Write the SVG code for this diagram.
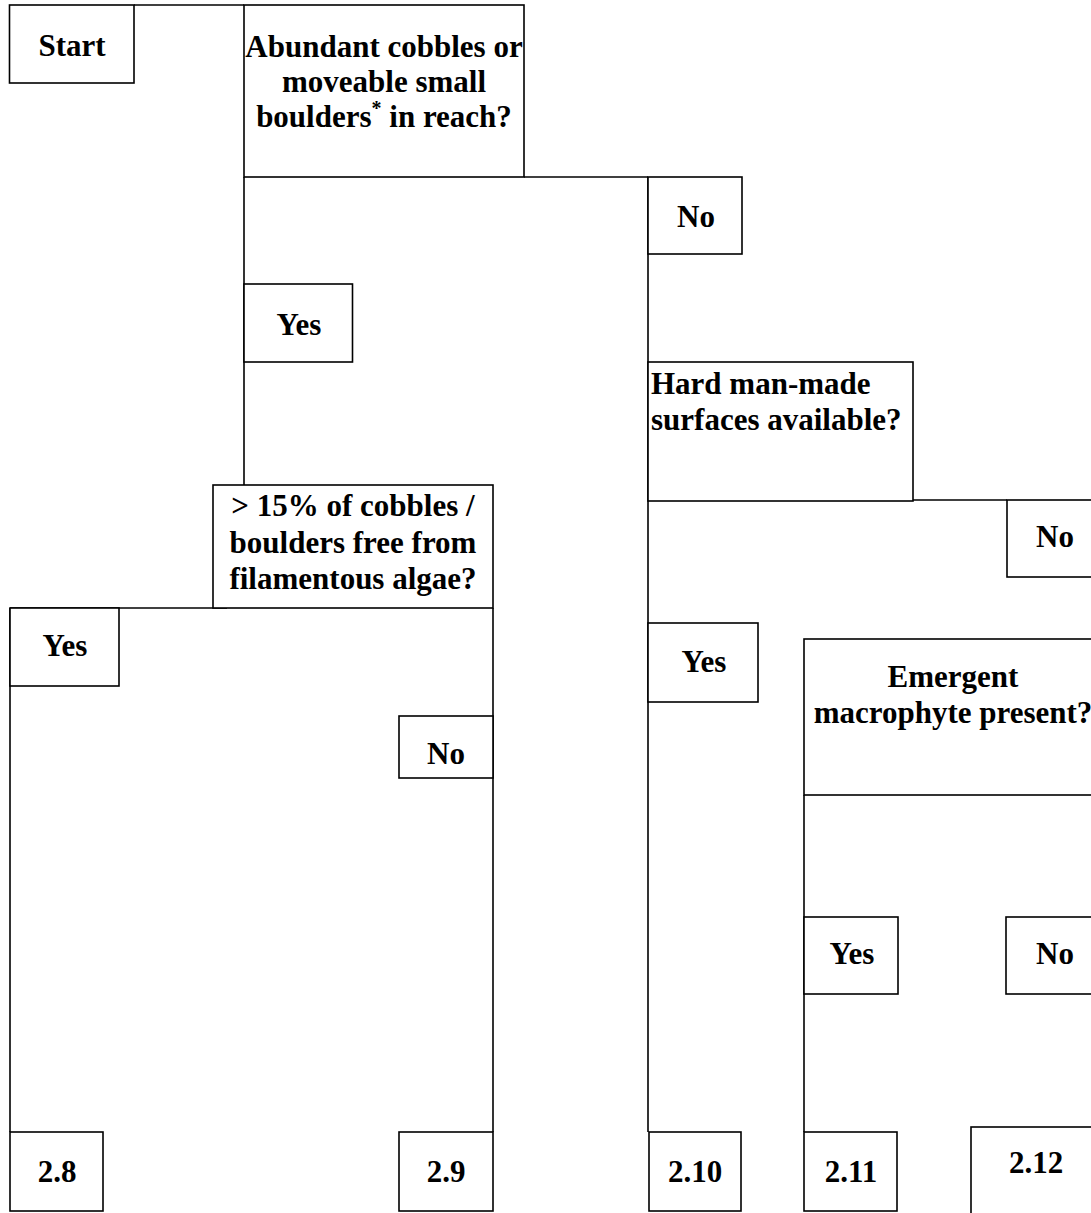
<svg xmlns="http://www.w3.org/2000/svg" width="1091" height="1213" viewBox="0 0 1091 1213">
<style>
.box{fill:#fff;stroke:#000;stroke-width:1.6}
.ln{stroke:#000;stroke-width:1.6;fill:none}
.t{font-family:"Liberation Serif","Times New Roman",serif;font-weight:bold;font-size:31px;fill:#000;text-anchor:middle}
.tl{text-anchor:start}
</style>
<rect x="0" y="0" width="1091" height="1213" fill="#fff"/>
<g id="connectors">
<line class="ln" x1="134" y1="5" x2="244" y2="5"/>
<line class="ln" x1="244" y1="177" x2="244" y2="485"/>
<line class="ln" x1="524" y1="177" x2="648" y2="177"/>
<line class="ln" x1="648" y1="177" x2="648" y2="1132"/>
<line class="ln" x1="913" y1="500" x2="1007" y2="500"/>
<line class="ln" x1="10" y1="608" x2="227" y2="608"/>
<line class="ln" x1="10" y1="608" x2="10" y2="1132"/>
<line class="ln" x1="493" y1="608" x2="493" y2="1132"/>
<line class="ln" x1="804" y1="795" x2="804" y2="1132"/>
</g>
<g id="start"><rect class="box" x="9.5" y="5" width="124.5" height="78"/><text class="t" x="72" y="56">Start</text></g>
<g id="q-cobbles"><rect class="box" x="244" y="5" width="280" height="172"/>
<text class="t" x="384" y="57">Abundant cobbles or</text>
<text class="t" x="384" y="92">moveable small</text>
<text class="t" x="384" y="127">boulders<tspan font-size="20" dy="-12">*</tspan><tspan dy="12"> in reach?</tspan></text></g>
<g id="yes-cobbles"><rect class="box" x="244" y="284" width="108.5" height="78"/><text class="t" x="299" y="335">Yes</text></g>
<g id="no-cobbles"><rect class="box" x="648" y="177" width="94" height="77"/><text class="t" x="696" y="227">No</text></g>
<g id="q-algae"><rect class="box" x="213" y="485" width="280" height="123"/>
<text class="t" x="353" y="516">&gt; 15% of cobbles /</text>
<text class="t" x="353" y="553">boulders free from</text>
<text class="t" x="353" y="589">filamentous algae?</text></g>
<g id="yes-algae"><rect class="box" x="10" y="608" width="109" height="78"/><text class="t" x="65" y="656">Yes</text></g>
<g id="no-algae"><rect class="box" x="399" y="716" width="94" height="62"/><text class="t" x="446" y="764">No</text></g>
<g id="q-hard"><rect class="box" x="648" y="362" width="265" height="139"/>
<text class="t tl" x="651" y="394">Hard man-made</text>
<text class="t tl" x="651" y="430">surfaces available?</text></g>
<g id="no-hard"><rect class="box" x="1007" y="500" width="97" height="77"/><text class="t" x="1055" y="547">No</text></g>
<g id="yes-hard"><rect class="box" x="648" y="623" width="110" height="79"/><text class="t" x="704" y="672">Yes</text></g>
<g id="q-emergent"><rect class="box" x="804" y="639" width="298" height="156"/>
<text class="t" x="953" y="687">Emergent</text>
<text class="t" x="953" y="723">macrophyte present?</text></g>
<g id="yes-emergent"><rect class="box" x="804" y="917" width="94" height="77"/><text class="t" x="852" y="964">Yes</text></g>
<g id="no-emergent"><rect class="box" x="1006" y="917" width="98" height="77"/><text class="t" x="1055" y="964">No</text></g>
<g id="r28"><rect class="box" x="10" y="1132" width="93" height="79"/><text class="t" x="57" y="1182">2.8</text></g>
<g id="r29"><rect class="box" x="399" y="1132" width="94" height="79"/><text class="t" x="446" y="1182">2.9</text></g>
<g id="r210"><rect class="box" x="649" y="1132" width="92" height="79"/><text class="t" x="695" y="1182">2.10</text></g>
<g id="r211"><rect class="box" x="804" y="1132" width="93" height="79"/><text class="t" x="851" y="1182">2.11</text></g>
<g id="r212"><rect class="box" x="971" y="1127" width="130" height="95"/><text class="t" x="1036" y="1173">2.12</text></g>
</svg>
